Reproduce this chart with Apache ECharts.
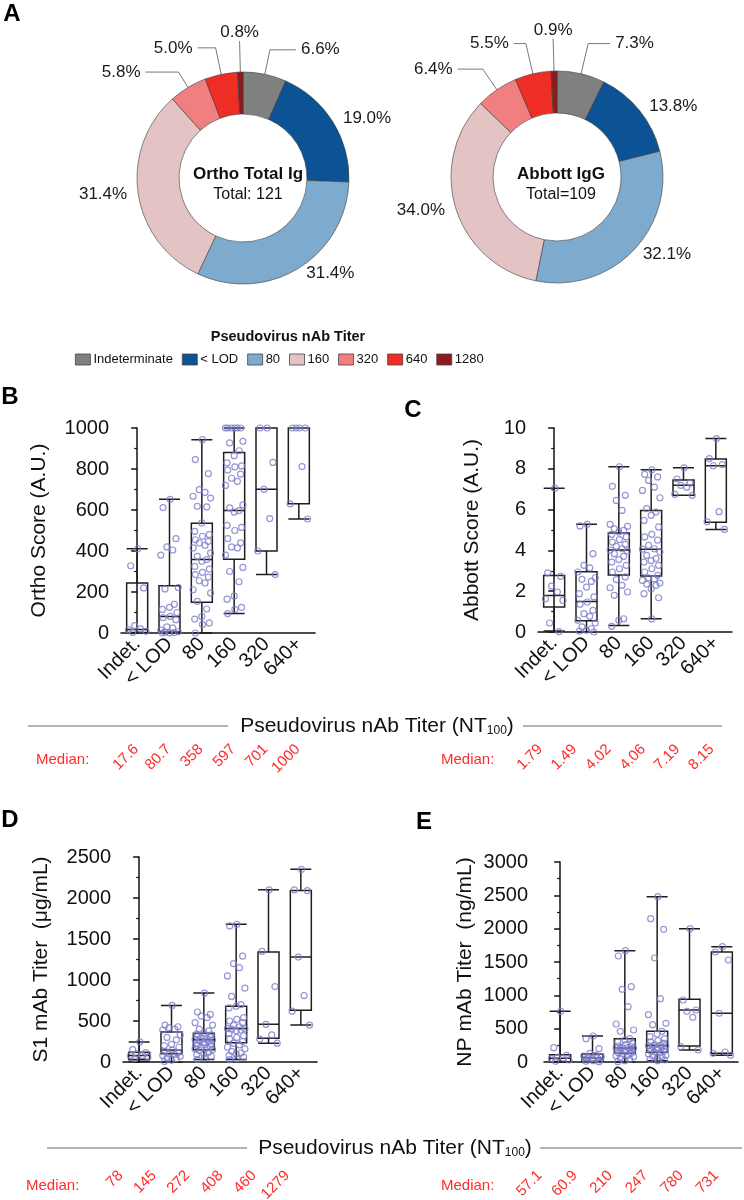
<!DOCTYPE html>
<html>
<head>
<meta charset="utf-8">
<script src="https://cdn.jsdelivr.net/npm/echarts@6/dist/echarts.min.js"></script>
<style>
  html, body { margin: 0; background: #fff; }
  #main { width: 744px; height: 1200px; }
</style>
</head>
<body>
<div id="main"></div>
<script>
const FONT = 'Liberation Sans, Arial, sans-serif';
const RED = '#ff2b2b';
const INK = '#111';

// donut groups (panel A)
const titerGroups = ['Indeterminate', '< LOD', '80', '160', '320', '640', '1280'];
const titerColors = ['#808080', '#0b5394', '#7eaacd', '#e4c3c5', '#f27f7f', '#ee2d24', '#8e1a1f'];
const orthoPct = [6.6, 19.0, 31.4, 31.4, 5.8, 5.0, 0.8];
const abbottPct = [7.3, 13.8, 32.1, 34.0, 6.4, 5.5, 0.9];

// box panels (B-E)
const boxCats = ['Indet.', '< LOD', '80', '160', '320', '640+'];

// [min, Q1, median, Q3, max]
const orthoBox = [
  [0, 2, 17.6, 244, 411],
  [0, 5, 80.7, 230, 652],
  [0, 150, 358, 535, 943],
  [95, 360, 597, 880, 1000],
  [285, 400, 701, 1000, 1000],
  [556, 630, 1000, 1000, 1000]
];
const orthoPts = [
  [411, 328, 220, 36, 20, 15, 8, 3],
  [652, 612, 460, 420, 405, 380, 222, 215, 140, 125, 115, 100, 80.7, 75, 65, 30, 25, 15, 6, 4, 2, 1, 0],
  [943, 846, 777, 699, 686, 667, 658, 618, 615, 537, 496, 480, 472, 455, 447, 439, 428, 415, 390, 374,
   358, 350, 325, 312, 296, 285, 273, 255, 244, 211, 195, 154, 117, 81, 68, 49, 41, 0],
  [1000, 1000, 1000, 1000, 1000, 1000, 935, 927, 889, 865, 830, 815, 810, 795, 775, 755, 740, 720, 625, 610,
   597, 590, 525, 515, 500, 460, 440, 420, 415, 380, 320, 300, 250, 180, 165, 125, 115, 95],
  [1000, 1000, 832, 701, 558, 400, 285],
  [1000, 1000, 1000, 1000, 812, 630, 556]
];

const abbottBox = [
  [0.05, 1.22, 1.79, 2.77, 7.05],
  [0, 0.55, 1.49, 2.95, 5.28],
  [0.32, 2.8, 4.02, 4.85, 8.1],
  [0.65, 2.75, 4.06, 5.95, 7.95],
  [6.7, 6.7, 7.19, 7.45, 8.05],
  [5.03, 5.38, 8.15, 8.48, 9.48]
];
const abbottPts = [
  [7.05, 2.9, 2.73, 2.25, 1.96, 1.63, 1.55, 0.44, 0.02],
  [5.28, 5.2, 3.84, 3.27, 3.14, 2.94, 2.66, 2.58, 2.48, 2.2, 1.88, 1.72, 1.47, 1.36, 1.06, 0.9, 0.77, 0.57,
   0.44, 0.25, 0.16, 0.08, 0.05, 0],
  [8.1, 7.14, 6.7, 6.45, 5.96, 5.28, 5.18, 5.06, 4.98, 4.9, 4.79, 4.66, 4.53, 4.41, 4.3, 4.2, 4.08, 4.02,
   3.97, 3.84, 3.71, 3.55, 3.43, 3.27, 3.1, 2.94, 2.7, 2.57, 2.29, 2.17, 1.96, 1.8, 0.65, 0.57, 0.28],
  [7.95, 7.73, 7.6, 7.43, 7.1, 6.94, 6.58, 6.05, 5.88, 5.72, 5.47, 5.15, 4.79, 4.66, 4.5, 4.25, 4.08, 4.06,
   3.92, 3.76, 3.6, 3.5, 3.43, 3.27, 3.1, 2.94, 2.78, 2.66, 2.6, 2.53, 2.4, 2.35, 2.29, 2.12, 1.88, 1.68, 0.64],
  [8.05, 7.5, 7.3, 7.19, 7.1, 6.75, 6.7],
  [9.48, 8.5, 8.2, 8.15, 5.9, 5.4, 5.03]
];

const s1Box = [
  [5, 30, 78, 120, 245],
  [0, 100, 145, 365, 690],
  [30, 150, 272, 350, 840],
  [30, 235, 408, 680, 1680],
  [230, 290, 460, 1340, 2100],
  [450, 630, 1279, 2090, 2350]
];
const s1Pts = [
  [245, 150, 115, 100, 80, 76, 60, 40],
  [690, 450, 430, 420, 400, 390, 330, 300, 270, 215, 200, 180, 145, 130, 115, 100, 95, 80, 70, 50, 40, 20, 5],
  [840, 610, 580, 560, 540, 480, 450, 400, 380, 360, 340, 330, 320, 310, 300, 290, 280, 275, 270, 260,
   250, 240, 230, 220, 210, 200, 190, 180, 170, 160, 150, 140, 120, 100, 90, 70, 50, 30],
  [1680, 1660, 1290, 1200, 1150, 1050, 900, 800, 700, 680, 660, 540, 520, 500, 480, 450, 430, 410, 405, 400,
   390, 380, 350, 320, 300, 280, 250, 230, 210, 180, 160, 130, 110, 100, 80, 60, 40, 30],
  [2100, 1350, 920, 460, 330, 280, 230],
  [2350, 2100, 2090, 1279, 810, 620, 450]
];

const npBox = [
  [0, 0, 57.1, 110, 760],
  [0, 10, 60.9, 120, 390],
  [0, 130, 210, 350, 1670],
  [20, 145, 247, 460, 2480],
  [180, 240, 780, 940, 2000],
  [100, 130, 731, 1650, 1730]
];
const npPts = [
  [760, 215, 100, 70, 60, 50, 30, 10],
  [390, 350, 200, 130, 100, 90, 80, 70, 60.9, 50, 40, 30, 20, 10, 5],
  [1670, 1590, 1130, 1090, 830, 570, 480, 460, 350, 330, 300, 280, 260, 240, 230, 220, 215, 210, 205, 200,
   190, 180, 170, 160, 150, 140, 130, 120, 100, 90, 80, 60, 40, 20, 5],
  [2480, 2150, 1990, 1560, 950, 710, 580, 560, 460, 420, 380, 350, 320, 300, 280, 260, 250, 247, 240, 230,
   220, 210, 200, 190, 180, 170, 160, 150, 140, 120, 100, 90, 80, 60, 40, 30, 20],
  [2000, 930, 780, 760, 670, 230, 180],
  [1730, 1650, 1530, 731, 150, 130, 100]
];

// horizontal spread of dots inside a column (category units)
const JIT = [0.02, -0.2, 0.2, -0.08, 0.1, -0.27, 0.27, -0.14, 0.15, 0, -0.22, 0.23];

// leader lines [length, length2] for the thin slices of each donut
const orthoLeaders = { 0: [25, 26], 4: [18, 33], 5: [27, 18], 6: [30, 0] };
const abbottLeaders = { 0: [31, 22], 4: [25, 25], 5: [31, 12], 6: [31, 0] };

const panels = [
  { box: orthoBox, pts: orthoPts, max: 1000, step: 200, name: 'Ortho Score (A.U.)',
    grid: { left: 121, top: 428, width: 194, height: 205 }, off: 6, gap: 65,
    med: { left: 120, top: 742, width: 194 } },
  { box: abbottBox, pts: abbottPts, max: 10, step: 2, name: 'Abbott Score (A.U.)',
    grid: { left: 538, top: 428, width: 194, height: 204 }, off: 6, gap: 49,
    med: { left: 523, top: 742, width: 206 } },
  { box: s1Box, pts: s1Pts, max: 2500, step: 500, name: 'S1 mAb Titer  (\u03bcg/mL)',
    grid: { left: 123, top: 857, width: 194, height: 205 }, off: 6, gap: 65,
    med: { left: 104, top: 1169, width: 200 } },
  { box: npBox, pts: npPts, max: 3000, step: 500, name: 'NP mAb Titer  (ng/mL)',
    grid: { left: 544, top: 862, width: 194, height: 200 }, off: 10, gap: 58,
    med: { left: 522, top: 1169, width: 212 } }
];

const chart = echarts.init(document.getElementById('main'), null, { renderer: 'canvas' });

function donut(pct, center, leaders) {
  return {
    type: 'pie',
    center: center,
    radius: [64, 106],
    startAngle: 90,
    silent: true,
    avoidLabelOverlap: false,
    itemStyle: { borderColor: '#3a3a3a', borderWidth: 0.6 },
    label: {
      formatter: p => p.value.toFixed(1) + '%',
      fontSize: 17, color: '#1a1a1a', fontFamily: FONT
    },
    labelLine: { lineStyle: { color: '#555', width: 0.8 } },
    // labels whose leader is a single upright stroke sit centred on top of it
    labelLayout: p => {
      const ld = leaders[p.dataIndex];
      if (!ld || ld[1] !== 0 || !p.labelLinePoints) return {};
      const end = p.labelLinePoints[p.labelLinePoints.length - 1];
      return { x: end[0], y: end[1] - 1, align: 'center', verticalAlign: 'bottom' };
    },
    data: titerGroups.map((n, i) => {
      const ld = leaders[i];
      return {
        name: n,
        value: pct[i],
        itemStyle: { color: titerColors[i] },
        labelLine: ld ? { show: true, length: ld[0], length2: ld[1] } : { show: false, length: 6, length2: 0 }
      };
    })
  };
}

const grids = [], xAxes = [], yAxes = [];
const series = [donut(orthoPct, [243, 178], orthoLeaders), donut(abbottPct, [557, 177], abbottLeaders)];

panels.forEach(p => {
  grids.push(p.grid);
  const gi = grids.length - 1;
  xAxes.push({
    type: 'category', gridIndex: gi, data: boxCats,
    axisLine: { lineStyle: { color: INK, width: 1.5 } },
    axisTick: { alignWithLabel: true, length: 6, lineStyle: { color: INK, width: 1.5 } },
    axisLabel: { rotate: 45, interval: 0, fontSize: 20, color: INK, margin: 8, fontFamily: FONT }
  });
  const xCat = xAxes.length - 1;
  xAxes.push({ type: 'value', gridIndex: gi, min: -0.5, max: 5.5, show: false });
  const xVal = xAxes.length - 1;
  yAxes.push({
    type: 'value', gridIndex: gi, min: 0, max: p.max, interval: p.step, offset: p.off,
    name: p.name, nameLocation: 'middle', nameGap: p.gap,
    nameTextStyle: { fontSize: 21, color: INK, fontFamily: FONT },
    axisLine: { show: true, lineStyle: { color: INK, width: 1.5 } },
    axisTick: { show: true, length: 6, lineStyle: { color: INK, width: 1.5 } },
    minorTick: { show: true, splitNumber: 2, length: 3, lineStyle: { color: INK, width: 1.2 } },
    splitLine: { show: false },
    axisLabel: { fontSize: 20, color: INK, margin: 6, fontFamily: FONT, formatter: v => String(v) }
  });
  const yi = yAxes.length - 1;
  series.push({
    type: 'boxplot', xAxisIndex: xCat, yAxisIndex: yi, data: p.box, silent: true,
    boxWidth: [21, 21],
    itemStyle: { color: 'rgba(0,0,0,0)', borderColor: '#1e1e1e', borderWidth: 1.5 }
  });
  const dots = [];
  p.pts.forEach((list, i) => list.forEach((v, j) => dots.push([i + JIT[j % JIT.length], v])));
  series.push({
    type: 'scatter', xAxisIndex: xVal, yAxisIndex: yi, data: dots, silent: true, z: 3,
    symbol: 'circle', symbolSize: 6,
    itemStyle: { color: 'rgba(0,0,0,0)', borderColor: '#7c7cc9', borderWidth: 1.2 }
  });
});

// median rows under each pair of panels
panels.forEach(p => {
  grids.push(Object.assign({ height: 1 }, p.med));
  const gi = grids.length - 1;
  xAxes.push({
    type: 'category', gridIndex: gi, data: p.box.map(b => String(b[2])),
    axisLine: { show: false }, axisTick: { show: false },
    axisLabel: { rotate: 45, interval: 0, fontSize: 15, color: RED, margin: 4, fontFamily: FONT }
  });
  yAxes.push({ type: 'value', gridIndex: gi, show: false });
});

function letter(t, x, y) {
  return { type: 'text', x: x, y: y, style: { text: t, font: 'bold 24px ' + FONT, fill: '#000', align: 'center', verticalAlign: 'middle' } };
}
function heading(cx, y, x1, x2, x3, x4) {
  return [
    { type: 'line', shape: { x1: x1, y1: y, x2: x2, y2: y }, style: { stroke: '#9a9a9a', lineWidth: 1.5 } },
    { type: 'line', shape: { x1: x3, y1: y, x2: x4, y2: y }, style: { stroke: '#9a9a9a', lineWidth: 1.5 } },
    { type: 'text', x: cx, y: y, style: {
        text: '{a|Pseudovirus nAb Titer (NT}{s|100}{a|)}',
        rich: {
          a: { fontSize: 21, fontFamily: FONT, fill: INK },
          s: { fontSize: 12, fontFamily: FONT, fill: INK, verticalAlign: 'bottom', lineHeight: 8 }
        },
        align: 'center', verticalAlign: 'middle' } }
  ];
}
function medianTag(x, y) {
  return { type: 'text', x: x, y: y, style: { text: 'Median:', font: '15px ' + FONT, fill: RED, align: 'left', verticalAlign: 'middle' } };
}

const graphics = [
  letter('A', 12, 14), letter('B', 10, 397), letter('C', 413, 410), letter('D', 10, 820), letter('E', 424, 822),
  ...heading(377, 726, 28, 228, 523, 722),
  ...heading(395, 1148, 47, 247, 540, 742),
  medianTag(36, 760), medianTag(441, 760), medianTag(26, 1186), medianTag(441, 1186)
];

chart.setOption({
  animation: false,
  backgroundColor: '#fff',
  textStyle: { fontFamily: FONT },
  title: [
    { text: 'Ortho Total Ig', subtext: 'Total: 121', left: 243, top: 161, textAlign: 'center', itemGap: 4,
      textStyle: { fontSize: 17, fontWeight: 'bold', color: INK, fontFamily: FONT },
      subtextStyle: { fontSize: 16, color: INK, fontFamily: FONT } },
    { text: 'Abbott IgG', subtext: 'Total=109', left: 556, top: 161, textAlign: 'center', itemGap: 4,
      textStyle: { fontSize: 17, fontWeight: 'bold', color: INK, fontFamily: FONT },
      subtextStyle: { fontSize: 16, color: INK, fontFamily: FONT } },
    { text: 'Pseudovirus nAb Titer', left: 283, top: 324, textAlign: 'center',
      textStyle: { fontSize: 14.5, fontWeight: 'bold', color: INK, fontFamily: FONT } }
  ],
  legend: {
    data: titerGroups, left: 70, top: 348, icon: 'rect', itemWidth: 15, itemHeight: 11, itemGap: 9,
    selectedMode: false,
    itemStyle: { borderColor: '#444', borderWidth: 0.8 },
    textStyle: { fontSize: 13, color: INK, fontFamily: FONT, padding: [0, 0, 0, -2] }
  },
  grid: grids,
  xAxis: xAxes,
  yAxis: yAxes,
  series: series,
  graphic: graphics
});
</script>
</body>
</html>
